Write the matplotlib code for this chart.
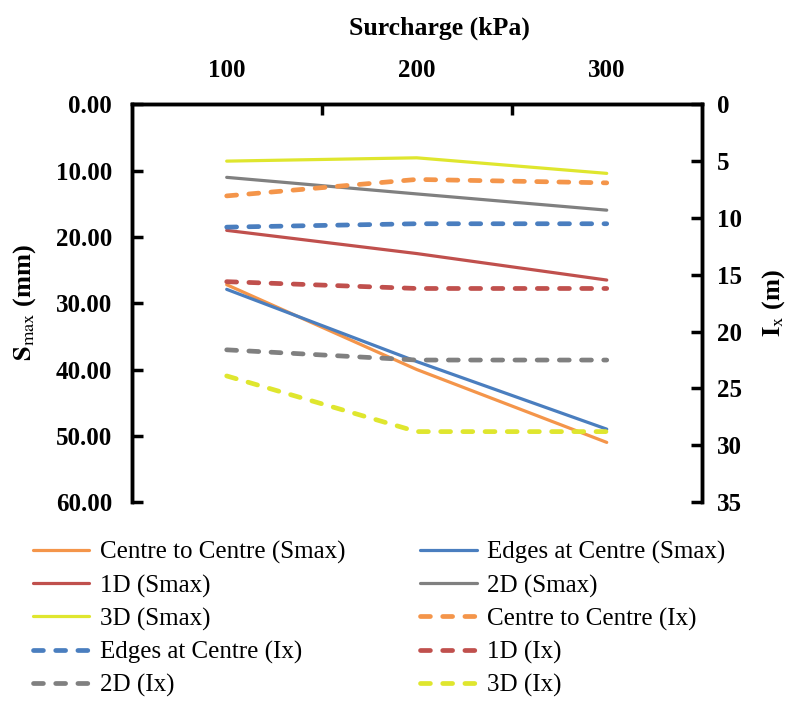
import matplotlib
matplotlib.use("Agg")
import matplotlib.pyplot as plt

plt.rcParams["font.family"] = ["Liberation Serif", "DejaVu Serif"]
plt.rcParams["mathtext.fontset"] = "stix"

# Surcharge categories
surcharge = ["100", "200", "300"]

# Maximum settlement S_max (mm), left axis
smax_c2c = [27.2, 40.0, 51.0]
smax_edges = [27.9, 38.8, 49.0]
smax_1d = [19.0, 22.5, 26.5]
smax_2d = [11.0, 13.5, 15.95]
smax_3d = [8.55, 8.05, 10.4]

# Influence distance I_x (m), right axis
ix_c2c = [8.05, 6.6, 6.9]
ix_edges = [10.8, 10.5, 10.5]
ix_1d = [15.6, 16.2, 16.2]
ix_2d = [21.6, 22.5, 22.5]
ix_3d = [23.9, 28.8, 28.8]

c_orange = "#F4954A"
c_blue = "#4A7EBF"
c_red = "#C0504D"
c_gray = "#808080"
c_yellow = "#DFE62E"

fig = plt.figure(figsize=(7.89, 7.04), dpi=100)
ax = fig.add_axes([0.1669, 0.2869, 0.7225, 0.5647])
ax2 = ax.twinx()

x = list(range(len(surcharge)))
solid_lw = 2.3
dash_lw = 3.4
dash_pat = (2.1, 2.6)

handles = {}
for name, vals, col in [
    ("Centre to Centre (Smax)", smax_c2c, c_orange),
    ("Edges at Centre (Smax)", smax_edges, c_blue),
    ("1D (Smax)", smax_1d, c_red),
    ("2D (Smax)", smax_2d, c_gray),
    ("3D (Smax)", smax_3d, c_yellow),
]:
    (h,) = ax.plot(x, vals, color=col, lw=solid_lw, solid_capstyle="round")
    handles[name] = h

for name, vals, col in [
    ("Centre to Centre (Ix)", ix_c2c, c_orange),
    ("Edges at Centre (Ix)", ix_edges, c_blue),
    ("1D (Ix)", ix_1d, c_red),
    ("2D (Ix)", ix_2d, c_gray),
    ("3D (Ix)", ix_3d, c_yellow),
]:
    (h,) = ax2.plot(x, vals, color=col, lw=dash_lw, dashes=dash_pat,
                    dash_capstyle="round")
    handles[name] = h

# Axes ranges (depth-style: increasing downwards)
ax.set_xlim(-0.5, 2.5)
ax.set_ylim(60, 0)
ax2.set_ylim(35, 0)

tick_font = dict(fontsize=18, fontweight="bold")

ax.xaxis.tick_top()
ax.set_xticks(x)
ax.set_xticklabels(surcharge, **tick_font)
ax.set_xticks([0.5, 1.5], minor=True)
ax.tick_params(axis="x", which="major", length=0, pad=16)
ax.tick_params(axis="x", which="minor", direction="in", length=8, width=2.5, top=True)

ax.set_yticks(range(0, 61, 10))
ax.set_yticklabels([f"{v:.2f}" for v in range(0, 61, 10)], **tick_font)
ax.tick_params(axis="y", direction="in", length=8, width=2.5, pad=14)

ax2.set_yticks(range(0, 36, 5))
ax2.set_yticklabels([str(v) for v in range(0, 36, 5)], **tick_font)
ax2.tick_params(axis="y", direction="in", length=8, width=2.5, pad=11)

for a in (ax, ax2):
    a.spines["bottom"].set_visible(False)
    for s in ("top", "left", "right"):
        a.spines[s].set_linewidth(2.5)

fig.text(0.5566, 0.960, "Surcharge (kPa)", ha="center", va="center",
         fontsize=18.5, fontweight="bold")
fig.text(0.031, 0.57, r"$\mathbf{S}_{\mathrm{max}}$ (mm)", rotation=90,
         ha="center", va="center", fontsize=19, fontweight="bold")
fig.text(0.981, 0.57, r"$\mathbf{I}_{\mathrm{x}}$ (m)", rotation=90,
         ha="center", va="center", fontsize=19, fontweight="bold")

order = [
    "Centre to Centre (Smax)", "1D (Smax)", "3D (Smax)", "Edges at Centre (Ix)", "2D (Ix)",
    "Edges at Centre (Smax)", "2D (Smax)", "Centre to Centre (Ix)", "1D (Ix)", "3D (Ix)",
]
fig.legend([handles[k] for k in order], order, ncol=2, loc="upper left",
           bbox_to_anchor=(0.042, 0.231), frameon=False, fontsize=18,
           handlelength=2.25, handletextpad=0.42, columnspacing=3.0,
           labelspacing=0.40, borderpad=0, borderaxespad=0)

fig.savefig("out.png", dpi=100)
